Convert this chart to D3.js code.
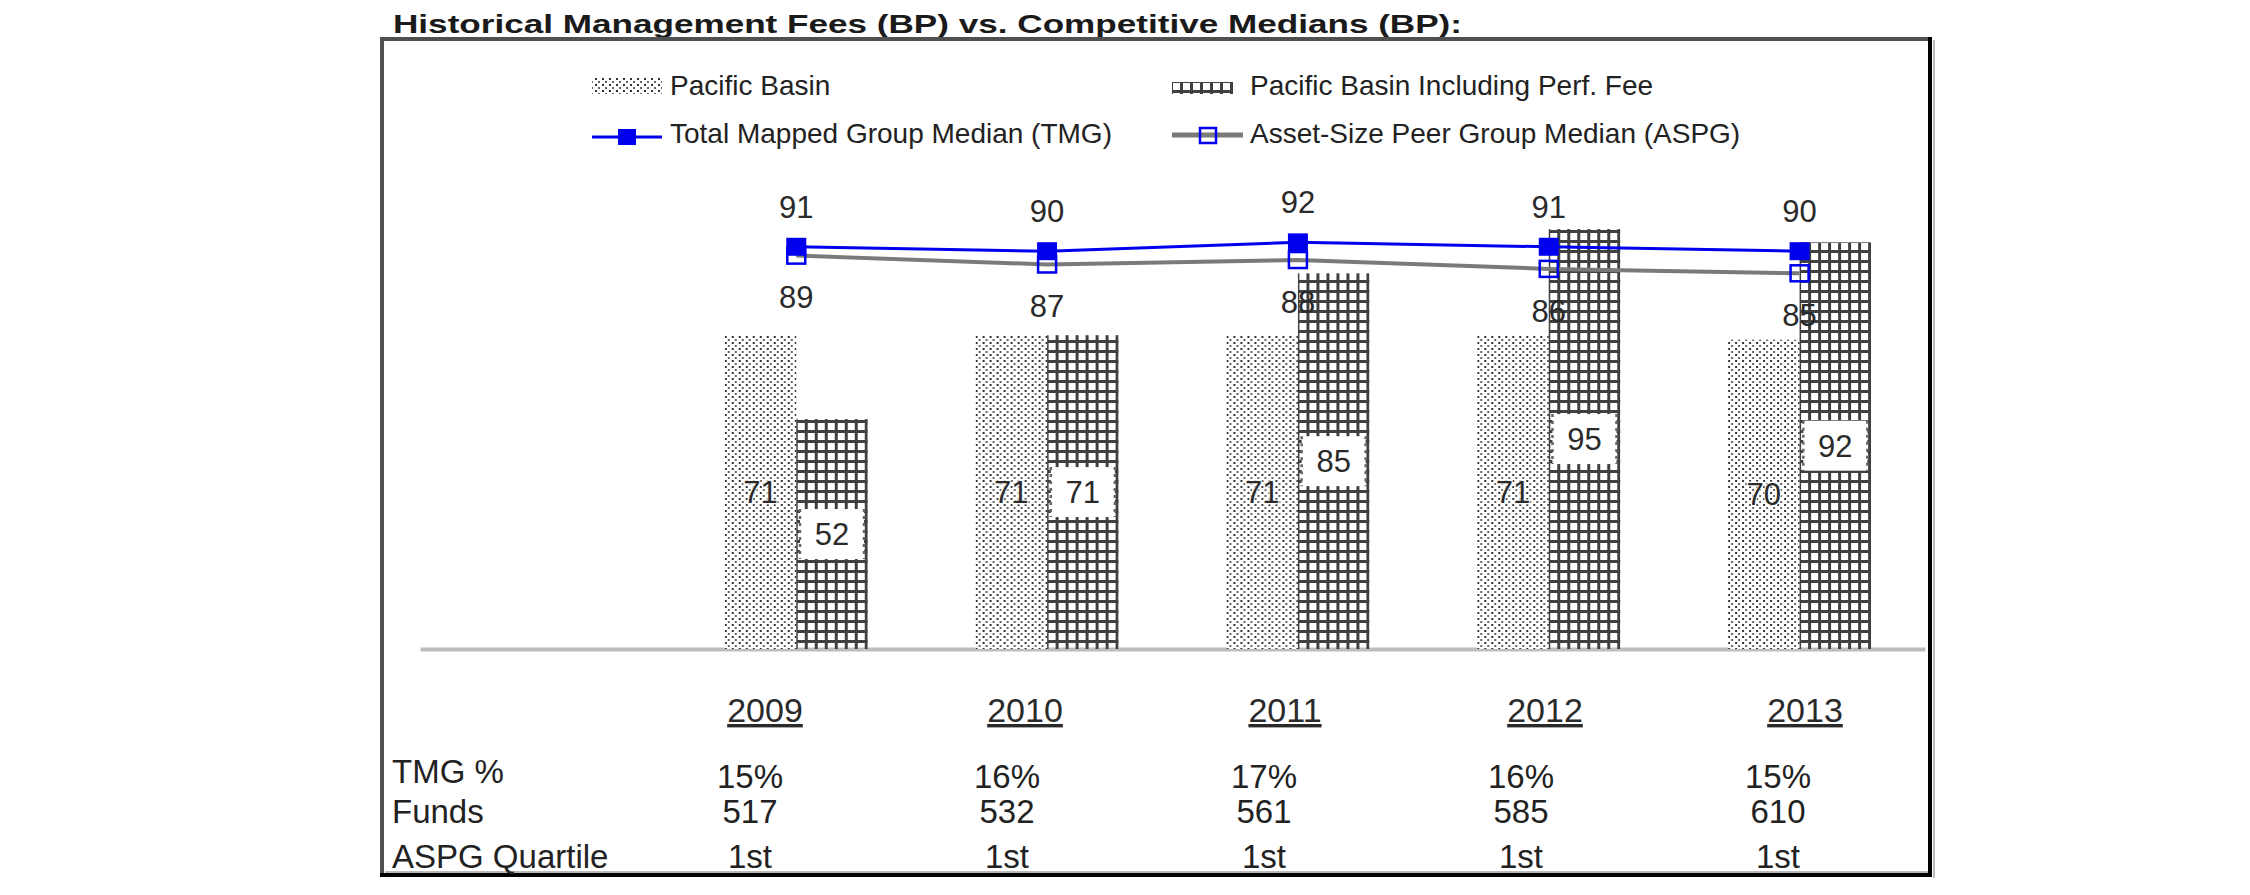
<!DOCTYPE html>
<html>
<head>
<meta charset="utf-8">
<script src="https://cdn.jsdelivr.net/npm/d3@7"></script>
<style>
  body { margin: 0; background: #fff; }
  text { font-family: "Liberation Sans", Arial, sans-serif; }
</style>
</head>
<body>
<svg id="chart" width="2250" height="895"></svg>
<script>
// values
var years = ["2009", "2010", "2011", "2012", "2013"];
var pacificBasin = [71, 71, 71, 71, 70];
var pacificBasinPerf = [52, 71, 85, 95, 92];
var tmgMedian = [91, 90, 92, 91, 90];
var aspgMedian = [89, 87, 88, 86, 85];
var tmgPct = ["15%", "16%", "17%", "16%", "15%"];
var funds = ["517", "532", "561", "585", "610"];
var aspgQuartile = ["1st", "1st", "1st", "1st", "1st"];
var rowLabels = ["TMG %", "Funds", "ASPG Quartile"];
var seriesNames = ["Pacific Basin", "Pacific Basin Including Perf. Fee",
                   "Total Mapped Group Median (TMG)", "Asset-Size Peer Group Median (ASPG)"];
var titleText = "Historical Management Fees (BP) vs. Competitive Medians (BP):";

var svg = d3.select("#chart");
var defs = svg.append("defs");

// dotted fill for Pacific Basin
var dots = defs.append("pattern")
    .attr("id", "dots")
    .attr("patternUnits", "userSpaceOnUse")
    .attr("width", 7).attr("height", 6);
dots.append("rect").attr("width", 7).attr("height", 6).attr("fill", "#fff");
dots.append("rect").attr("x", 0).attr("y", 0).attr("width", 2).attr("height", 2).attr("fill", "#333");
dots.append("rect").attr("x", 3).attr("y", 3).attr("width", 2).attr("height", 2).attr("fill", "#666");

// grid fill for the perf fee bars
var grid = defs.append("pattern")
    .attr("id", "grid")
    .attr("patternUnits", "userSpaceOnUse")
    .attr("width", 10).attr("height", 10);
grid.append("rect").attr("x", 0).attr("y", 0).attr("width", 3).attr("height", 10).attr("fill", "#404040");
grid.append("rect").attr("x", 0).attr("y", 0).attr("width", 10).attr("height", 3).attr("fill", "#404040");

// title (wide bold face)
svg.append("text")
    .attr("x", 393).attr("y", 33)
    .attr("font-family", "'DejaVu Sans', Verdana, sans-serif")
    .attr("font-size", 26)
    .attr("font-weight", "bold")
    .attr("fill", "#1a1a1a")
    .attr("textLength", 1069)
    .attr("lengthAdjust", "spacingAndGlyphs")
    .text(titleText);

// frame
svg.append("rect")
    .attr("x", 382).attr("y", 39)
    .attr("width", 1548).attr("height", 836)
    .attr("fill", "none")
    .attr("stroke", "#505050")
    .attr("stroke-width", 4);
svg.append("path")
    .attr("d", "M1930,37V875H380")
    .attr("fill", "none")
    .attr("stroke", "#000")
    .attr("stroke-width", 4);
svg.append("line")
    .attr("x1", 1934).attr("x2", 1934).attr("y1", 40).attr("y2", 878)
    .attr("stroke", "#bbb").attr("stroke-width", 2);
svg.append("line")
    .attr("x1", 385).attr("x2", 1928).attr("y1", 872).attr("y2", 872)
    .attr("stroke", "#bbb").attr("stroke-width", 2);

// scales: an empty first band keeps the room left of 2009
var x = d3.scaleBand()
    .domain([""].concat(years))
    .range([420, 1925])
    .paddingInner(0.43)
    .paddingOuter(0.215);

var xs = d3.scaleBand()
    .domain(["pb", "perf"])
    .range([0, x.bandwidth()]);

var y = d3.scaleLinear()
    .domain([0, 100])
    .range([649, 207]);

var mid = function(yr) { return x(yr) + x.bandwidth() / 2; };

var barData = years.map(function(yr, i) {
  return {year: yr, pb: pacificBasin[i], perf: pacificBasinPerf[i],
          tmg: tmgMedian[i], aspg: aspgMedian[i]};
});

// baseline
var axis = svg.append("g")
    .attr("transform", "translate(0," + y(0) + ")")
    .call(d3.axisBottom(x).tickSize(0).tickSizeOuter(0).tickFormat(""));
axis.select(".domain").attr("stroke", "#bdbdbd").attr("stroke-width", 4);

// bars
var groups = svg.append("g").selectAll("g")
    .data(barData)
    .enter().append("g")
    .attr("transform", function(d) { return "translate(" + x(d.year) + ",0)"; });

groups.append("rect")
    .attr("x", xs("pb"))
    .attr("y", function(d) { return y(d.pb); })
    .attr("width", xs.bandwidth())
    .attr("height", function(d) { return y(0) - y(d.pb); })
    .attr("fill", "url(#dots)");

groups.append("rect")
    .attr("x", xs("perf"))
    .attr("y", function(d) { return y(d.perf); })
    .attr("width", xs.bandwidth())
    .attr("height", function(d) { return y(0) - y(d.perf); })
    .attr("fill", "url(#grid)");

// Pacific Basin value labels
groups.append("text")
    .attr("x", xs("pb") + xs.bandwidth() / 2)
    .attr("y", function(d) { return (y(d.pb) + y(0)) / 2; })
    .attr("dy", "0.35em")
    .attr("text-anchor", "middle")
    .attr("font-size", 31)
    .attr("fill", "#2a2a2a")
    .attr("stroke", "#fff").attr("stroke-width", 3).attr("stroke-opacity", 0.7)
    .attr("paint-order", "stroke")
    .text(function(d) { return d.pb; });

// perf fee labels sit in a white box with dotted sides
var perfLab = groups.append("g")
    .attr("transform", function(d) {
      return "translate(" + (xs("perf") + xs.bandwidth() / 2) + "," + (y(d.perf) + y(0)) / 2 + ")";
    });
perfLab.append("rect")
    .attr("x", -32).attr("y", -25)
    .attr("width", 64).attr("height", 50)
    .attr("fill", "#fff");
perfLab.selectAll("line.side")
    .data([-32, 32])
    .enter().append("line")
    .attr("class", "side")
    .attr("x1", function(d) { return d; }).attr("x2", function(d) { return d; })
    .attr("y1", -25).attr("y2", 25)
    .attr("stroke", "#666")
    .attr("stroke-width", 2.5)
    .attr("stroke-dasharray", "3,4");
perfLab.append("text")
    .attr("dy", "0.35em")
    .attr("text-anchor", "middle")
    .attr("font-size", 31)
    .attr("fill", "#2a2a2a")
    .text(function(d) { return d.perf; });

// median lines
var aspgLine = d3.line()
    .x(function(d) { return mid(d.year); })
    .y(function(d) { return y(d.aspg); });
var tmgLine = d3.line()
    .x(function(d) { return mid(d.year); })
    .y(function(d) { return y(d.tmg); });

svg.append("path")
    .datum(barData)
    .attr("d", aspgLine)
    .attr("fill", "none")
    .attr("stroke", "#7a7a7a")
    .attr("stroke-width", 4);

svg.append("g").selectAll("rect")
    .data(barData)
    .enter().append("rect")
    .attr("x", function(d) { return mid(d.year) - 9; })
    .attr("y", function(d) { return y(d.aspg) - 8; })
    .attr("width", 18).attr("height", 16)
    .attr("fill", "none")
    .attr("stroke", "#0000ee")
    .attr("stroke-width", 2.5);

svg.append("path")
    .datum(barData)
    .attr("d", tmgLine)
    .attr("fill", "none")
    .attr("stroke", "#0000ee")
    .attr("stroke-width", 3);

svg.append("g").selectAll("rect")
    .data(barData)
    .enter().append("rect")
    .attr("x", function(d) { return mid(d.year) - 10; })
    .attr("y", function(d) { return y(d.tmg) - 9; })
    .attr("width", 20).attr("height", 18)
    .attr("fill", "#0000ee");

// median labels: TMG above, ASPG below
svg.append("g").selectAll("text")
    .data(barData)
    .enter().append("text")
    .attr("x", function(d) { return mid(d.year); })
    .attr("y", function(d) { return y(d.tmg) - 40; })
    .attr("dy", "0.35em")
    .attr("text-anchor", "middle")
    .attr("font-size", 31)
    .attr("fill", "#2a2a2a")
    .text(function(d) { return d.tmg; });

svg.append("g").selectAll("text")
    .data(barData)
    .enter().append("text")
    .attr("x", function(d) { return mid(d.year); })
    .attr("y", function(d) { return y(d.aspg) + 42; })
    .attr("dy", "0.35em")
    .attr("text-anchor", "middle")
    .attr("font-size", 31)
    .attr("fill", "#2a2a2a")
    .text(function(d) { return d.aspg; });

// legend
var legend = svg.append("g").attr("font-size", 28).attr("fill", "#222");
legend.append("rect").attr("x", 592).attr("y", 78).attr("width", 70).attr("height", 16).attr("fill", "url(#dots)");
legend.append("rect").attr("x", 1172).attr("y", 82).attr("width", 61).attr("height", 12).attr("fill", "url(#grid)");
legend.append("line").attr("x1", 592).attr("x2", 662).attr("y1", 137).attr("y2", 137)
    .attr("stroke", "#0000ee").attr("stroke-width", 3);
legend.append("rect").attr("x", 618).attr("y", 129).attr("width", 18).attr("height", 16).attr("fill", "#0000ee");
legend.append("line").attr("x1", 1172).attr("x2", 1243).attr("y1", 135).attr("y2", 135)
    .attr("stroke", "#7a7a7a").attr("stroke-width", 5);
legend.append("rect").attr("x", 1200).attr("y", 128).attr("width", 16).attr("height", 15)
    .attr("fill", "none").attr("stroke", "#0000ee").attr("stroke-width", 2.5);

var legendPos = [[670, 95], [1250, 95], [670, 143], [1250, 143]];
legend.selectAll("text")
    .data(seriesNames)
    .enter().append("text")
    .attr("x", function(d, i) { return legendPos[i][0]; })
    .attr("y", function(d, i) { return legendPos[i][1]; })
    .text(function(d) { return d; });

// table under the chart
var headX = d3.scalePoint().domain(years).range([765, 1805]);
var colX = d3.scalePoint().domain(years).range([750, 1778]);

svg.append("g").selectAll("text")
    .data(years)
    .enter().append("text")
    .attr("x", function(d) { return headX(d); })
    .attr("y", 722)
    .attr("text-anchor", "middle")
    .attr("font-size", 34)
    .attr("fill", "#2a2a2a")
    .attr("text-decoration", "underline")
    .text(function(d) { return d; });

var rowY = [783, 823, 868];
svg.append("g").selectAll("text")
    .data(rowLabels)
    .enter().append("text")
    .attr("x", 392)
    .attr("y", function(d, i) { return rowY[i]; })
    .attr("font-size", 33)
    .attr("fill", "#222")
    .text(function(d) { return d; });

var rows = [tmgPct, funds, aspgQuartile];
var valY = [788, 823, 868];
rows.forEach(function(row, r) {
  svg.append("g").selectAll("text")
      .data(row)
      .enter().append("text")
      .attr("x", function(d, i) { return colX(years[i]); })
      .attr("y", valY[r])
      .attr("text-anchor", "middle")
      .attr("font-size", 33)
      .attr("fill", "#222")
      .text(function(d) { return d; });
});
</script>
</body>
</html>
